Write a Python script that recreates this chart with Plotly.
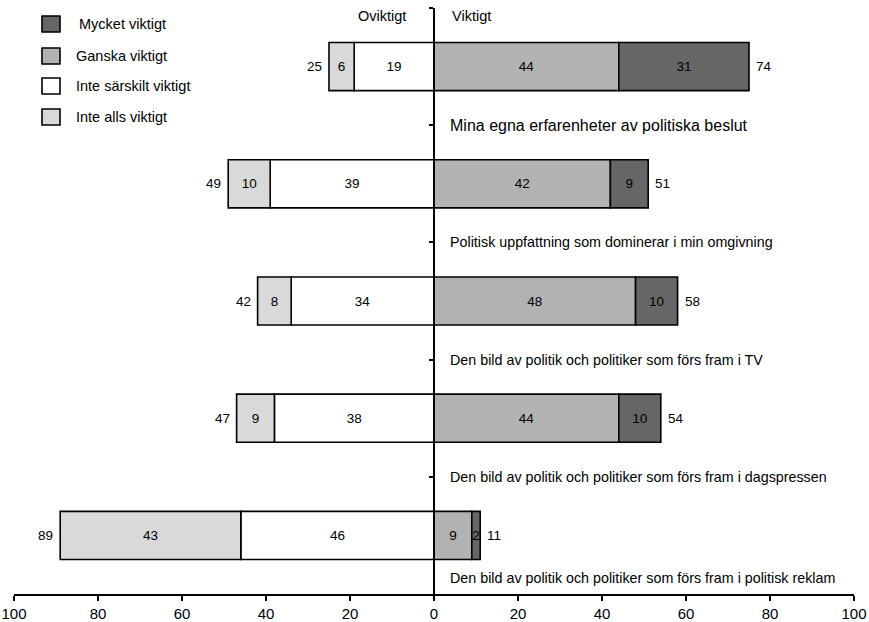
import plotly.graph_objects as go

categories = [
    "Mina egna erfarenheter av politiska beslut",
    "Politisk uppfattning som dominerar i min omgivning",
    "Den bild av politik och politiker som förs fram i TV",
    "Den bild av politik och politiker som förs fram i dagspressen",
    "Den bild av politik och politiker som förs fram i politisk reklam",
]
mycket_viktigt = [31, 9, 10, 10, 2]
ganska_viktigt = [44, 42, 48, 44, 9]
inte_sarskilt_viktigt = [19, 39, 34, 38, 46]
inte_alls_viktigt = [6, 10, 8, 9, 43]
total_oviktigt = [25, 49, 42, 47, 89]
total_viktigt = [74, 51, 58, 54, 11]
x_tick_values = [-100, -80, -60, -40, -20, 0, 20, 40, 60, 80, 100]
x_tick_labels = ["100", "80", "60", "40", "20", "0", "20", "40", "60", "80", "100"]

colors = {
    "Mycket viktigt": "#666666",
    "Ganska viktigt": "#b2b2b2",
    "Inte särskilt viktigt": "#ffffff",
    "Inte alls viktigt": "#d9d9d9",
}

FONT = "Liberation Sans, Arial, sans-serif"
ypos = list(range(len(categories)))

fig = go.Figure()

def add_bar(name, vals, sign):
    fig.add_trace(go.Bar(
        y=ypos,
        x=[sign * v for v in vals],
        orientation="h",
        name=name,
        width=0.41,
        marker=dict(color=colors[name], line=dict(color="black", width=1.6)),
        text=[str(v) for v in vals],
        textposition="inside",
        insidetextanchor="middle",
        textangle=0,
        constraintext="none",
        textfont=dict(family=FONT, size=13.5, color="black"),
        showlegend=False,
    ))

add_bar("Inte särskilt viktigt", inte_sarskilt_viktigt, -1)
add_bar("Inte alls viktigt", inte_alls_viktigt, -1)
add_bar("Ganska viktigt", ganska_viktigt, 1)
add_bar("Mycket viktigt", mycket_viktigt, 1)

annotations = []
# totals
for i in ypos:
    left_end = -(inte_sarskilt_viktigt[i] + inte_alls_viktigt[i])
    right_end = ganska_viktigt[i] + mycket_viktigt[i]
    annotations.append(dict(x=left_end, y=i, text=str(total_oviktigt[i]), showarrow=False,
                            xanchor="right", xshift=-5, font=dict(family=FONT, size=13.5, color="black")))
    annotations.append(dict(x=right_end, y=i, text=str(total_viktigt[i]), showarrow=False,
                            xanchor="left", xshift=5, font=dict(family=FONT, size=13.5, color="black")))

# category labels
for i, cat in enumerate(categories):
    yl = i + 0.5 if i < len(categories) - 1 else i + 0.36
    annotations.append(dict(x=0, y=yl, text=cat, showarrow=False, xanchor="left", xshift=14,
                            yanchor="middle",
                            font=dict(family=FONT, size=16 if i == 0 else 14.3, color="black")))

# headers
annotations.append(dict(x=0, y=1, xref="x", yref="paper", text="Oviktigt", showarrow=False,
                        xanchor="right", xshift=-26, yanchor="middle", yshift=-8,
                        font=dict(family=FONT, size=14.5, color="black")))
annotations.append(dict(x=0, y=1, xref="x", yref="paper", text="Viktigt", showarrow=False,
                        xanchor="left", xshift=16, yanchor="middle", yshift=-8,
                        font=dict(family=FONT, size=14.5, color="black")))

# pixel geometry of the plot area
L, R, T, B = 14, 854, 8, 594
def px(x):
    return (x - L) / (R - L)
def py(y):
    return (B - y) / (B - T)

legend_items = ["Mycket viktigt", "Ganska viktigt", "Inte särskilt viktigt", "Inte alls viktigt"]
legend_centers = [24, 56, 86, 117]
shapes = []
for name, cy in zip(legend_items, legend_centers):
    shapes.append(dict(type="rect", xref="paper", yref="paper",
                       x0=px(42), x1=px(60), y0=py(cy + 8), y1=py(cy - 8),
                       fillcolor=colors[name], line=dict(color="black", width=1.6)))
    annotations.append(dict(x=px(77 if name == "Mycket viktigt" else 74), y=py(cy), xref="paper", yref="paper",
                            text=name, showarrow=False, xanchor="left", yanchor="middle",
                            font=dict(family=FONT, size=14.5, color="black")))

W, H = 869, 622
fig.update_layout(
    width=W, height=H,
    barmode="relative",
    plot_bgcolor="white", paper_bgcolor="white",
    margin=dict(l=L, r=W - R, t=T, b=H - B, pad=0),
    font=dict(family=FONT, size=13, color="black"),
    annotations=annotations,
    shapes=shapes,
    xaxis=dict(range=[-100, 100], tickvals=x_tick_values, ticktext=x_tick_labels,
               ticks="outside", ticklen=5, tickwidth=1.5, tickcolor="black",
               showline=True, linecolor="black", linewidth=1.5, automargin=False,
               ticklabeloverflow="allow",
               showgrid=False, zeroline=False, tickfont=dict(family=FONT, size=15)),
    yaxis=dict(range=[4.5, -0.5], anchor="free", position=0.5, automargin=False,
               tickvals=[-0.5, 0.5, 1.5, 2.5, 3.5], ticks="outside", ticklen=4,
               tickwidth=1.5, tickcolor="black", showticklabels=False,
               showline=True, linecolor="black", linewidth=1.5,
               showgrid=False, zeroline=False),
    showlegend=False,
)

fig.write_html(
    "out.html",
    config={"displayModeBar": False},
    post_script="document.body.style.margin='0';document.body.style.overflow='hidden';",
)
